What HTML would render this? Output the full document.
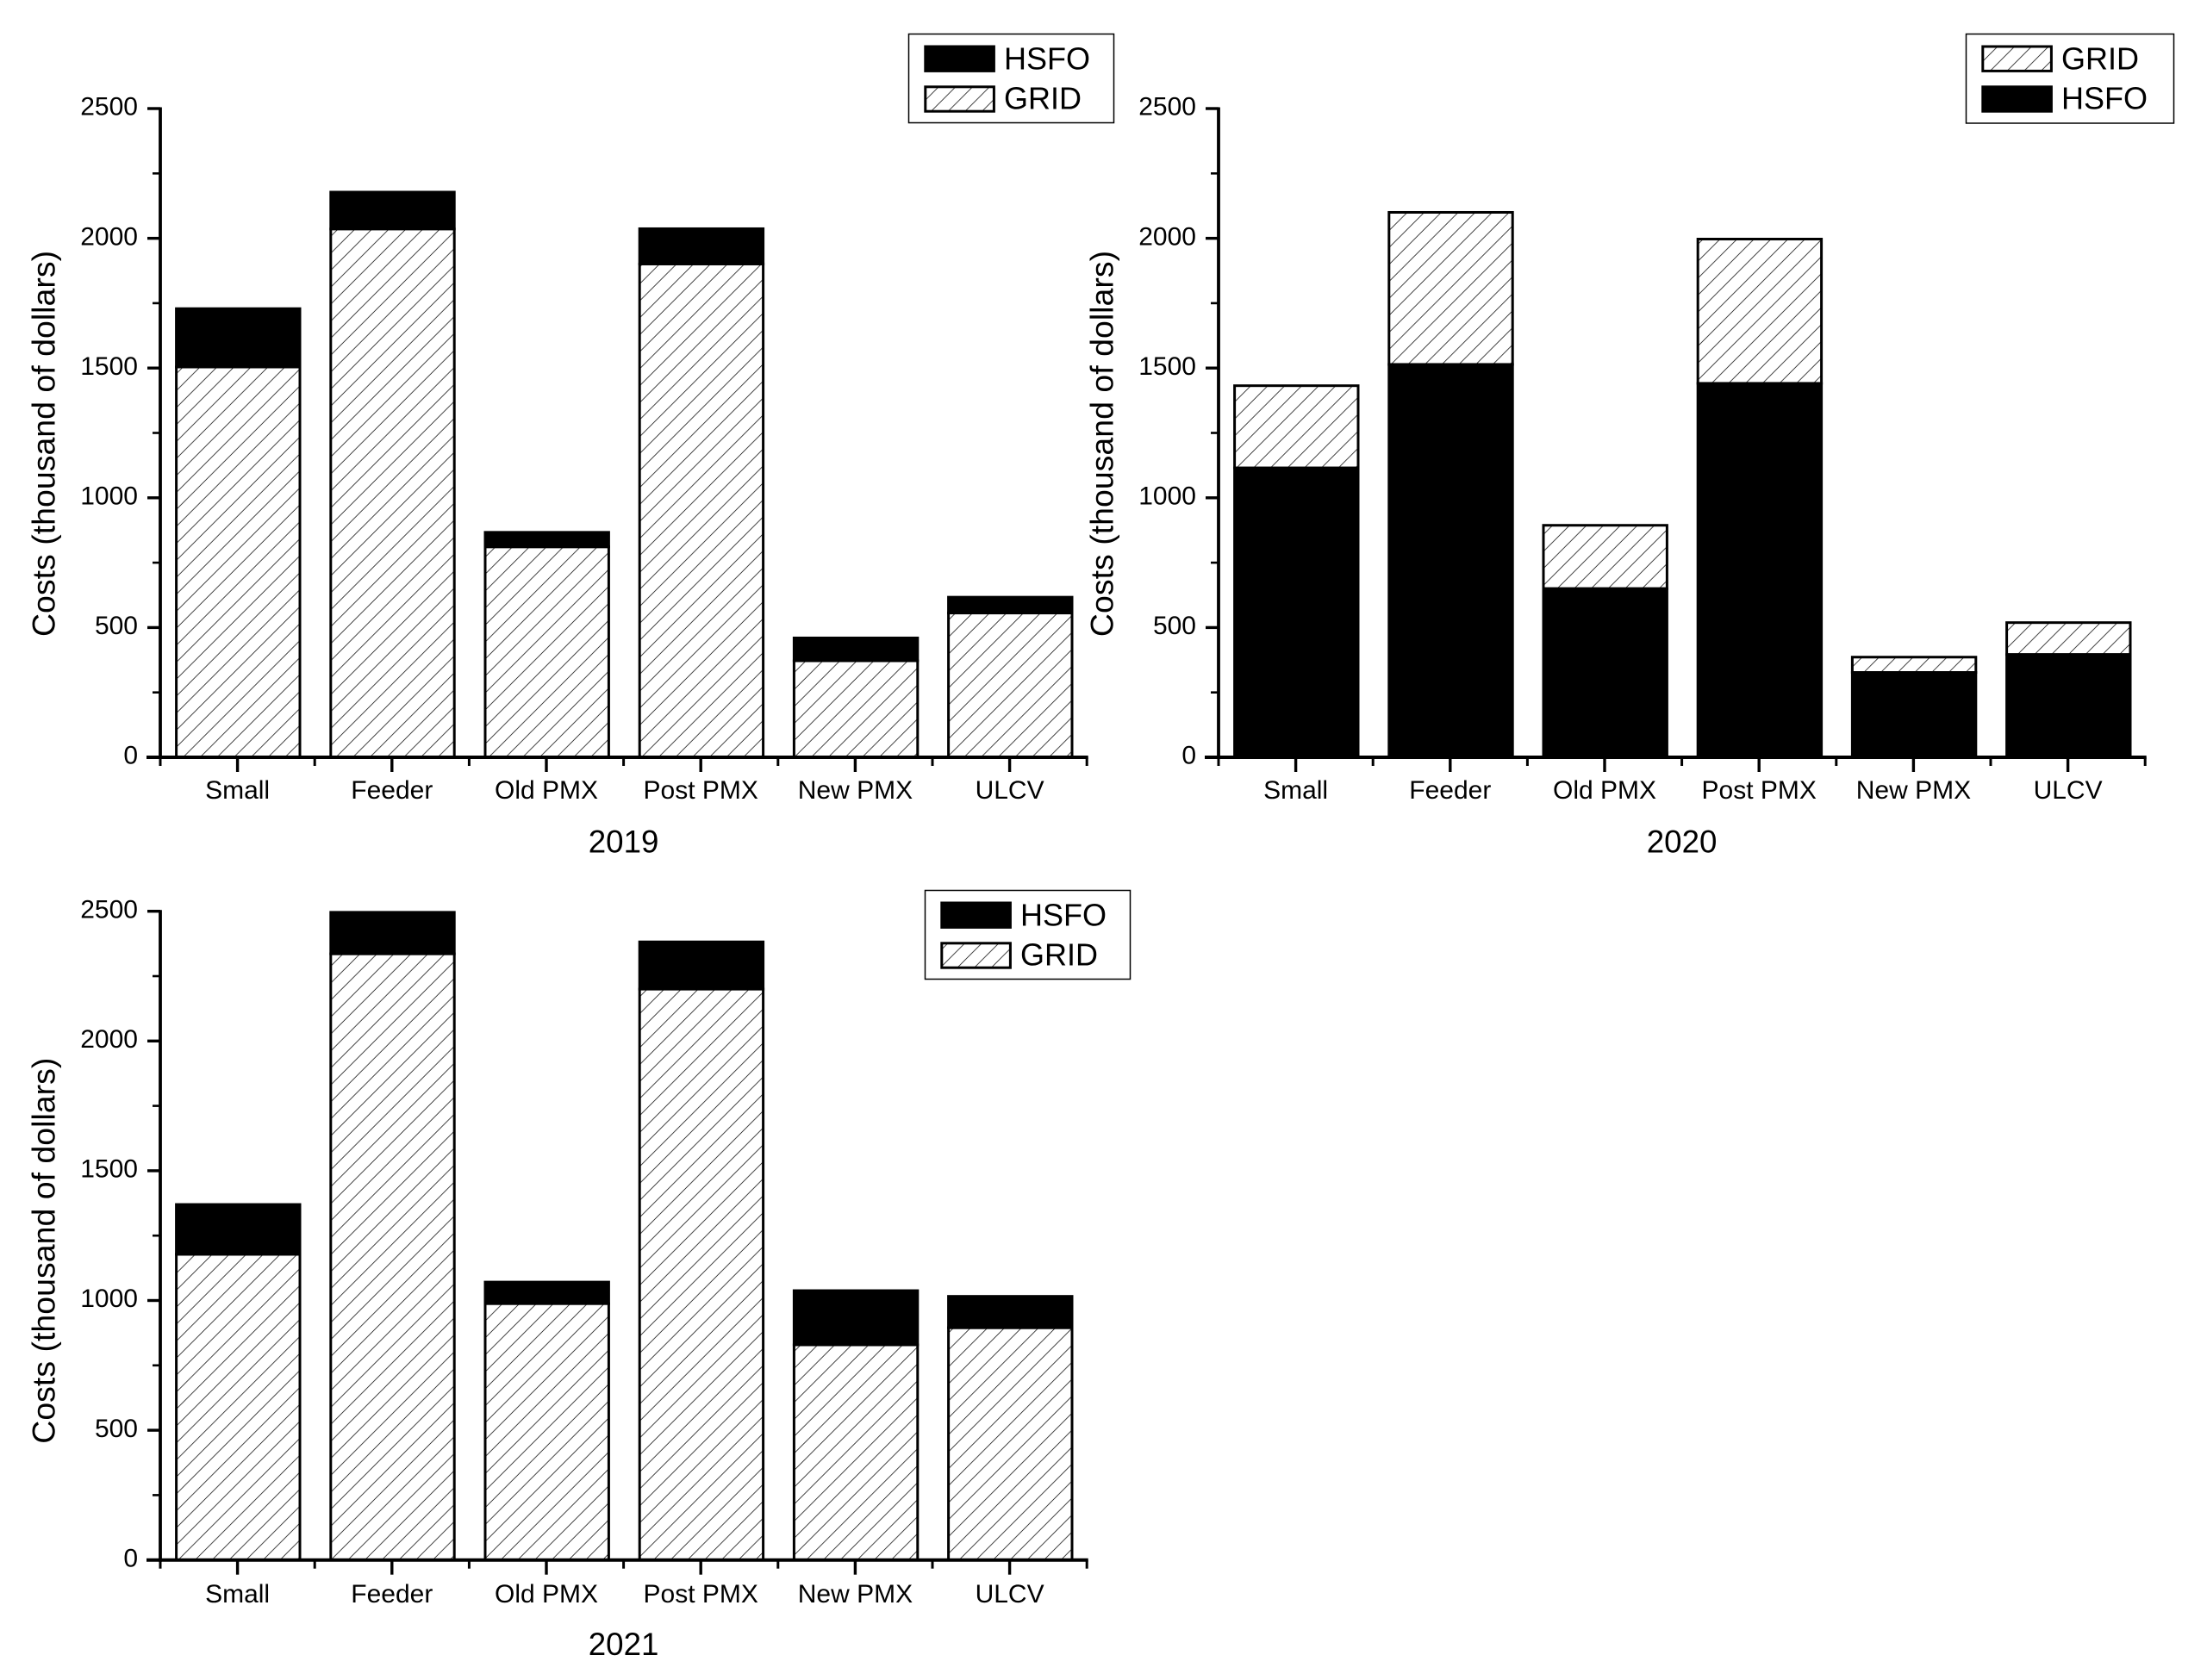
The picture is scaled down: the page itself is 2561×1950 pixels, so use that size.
<!DOCTYPE html>
<html lang="en">
<head>
<meta charset="utf-8">
<title>Costs by ship class 2019-2021</title>
<style>
html,body{margin:0;padding:0;background:#fff;}
svg{display:block;}
text{font-family:"Liberation Sans",Arial,sans-serif;fill:#000;}
</style>
</head>
<body>
<svg id="chart" xmlns="http://www.w3.org/2000/svg" width="2561" height="1950" viewBox="0 0 2561 1950">
<defs>
<pattern id="hatch" patternUnits="userSpaceOnUse" width="19.7" height="19.7" x="7" y="1">
<path d="M-2,21.7 L21.7,-2 M-5,5 L5,-5 M14.7,24.7 L24.7,14.7" stroke="#000" stroke-width="0.75" fill="none"/>
</pattern>
</defs>
<rect x="0" y="0" width="2561" height="1950" fill="#fff"/>
</svg>
<script>
// ---- chart data ----
const categories = ["Small", "Feeder", "Old PMX", "Post PMX", "New PMX", "ULCV"];
const yTicks = [0, 500, 1000, 1500, 2000, 2500];
const yMinorTicks = [250, 750, 1250, 1750, 2250];
const yTitle = "Costs (thousand of dollars)";

const grid2019 = [1504, 2036, 811, 1901, 372, 556];
const hsfo2019 = [225, 142, 56, 136, 88, 61];

const hsfo2020 = [1115, 1514, 650, 1441, 327, 396];
const grid2020 = [317, 586, 244, 556, 59, 123];

const grid2021 = [1178, 2336, 988, 2200, 829, 895];
const hsfo2021 = [192, 160, 83, 182, 209, 121];

// ---- layout ----
const svg = document.getElementById('chart');
const NS = 'http://www.w3.org/2000/svg';
const PITCH = 179.2, PLOT_H = 753, Y_MAX = 2500, BAR_W = 143.4;

function make(tag, attrs, parent) {
  const e = document.createElementNS(NS, tag);
  for (const k in attrs) e.setAttribute(k, attrs[k]);
  (parent || svg).appendChild(e);
  return e;
}

function drawSegment(g, kind, x, yTop, yBot, w, label) {
  const fill = kind === 'HSFO' ? '#000' : 'url(#hatch)';
  const r = make('rect', {x: x, y: yTop, width: w, height: yBot - yTop, fill: fill, stroke: '#000', 'stroke-width': 3}, g);
  
  
}

function drawPanel(opts) {
  const x0 = opts.x0, y0 = opts.y0;
  const xBand = i => x0 + PITCH * i;
  const xCenter = i => x0 + PITCH * (i + 0.5);
  const yScale = v => y0 - v / Y_MAX * PLOT_H;

  const g = make('g', {});
  
  

  // stacked bars
  categories.forEach((c, i) => {
    const slug = c.toLowerCase().replace(/\s+/g, '-');
    let base = 0;
    opts.stack.forEach(s => {
      const v = s.values[i];
      drawSegment(g, s.kind, xCenter(i) + 0.7 - BAR_W / 2, yScale(base + v), yScale(base), BAR_W,
        'bar-' + opts.year + '-' + slug + '-' + s.kind.toLowerCase());
      base += v;
    });
  });

  // axis lines
  const yAxis = make('line', {x1: x0, y1: yScale(Y_MAX) - 1.5, x2: x0, y2: y0 + 2, stroke: '#000', 'stroke-width': 3.8}, g);
  
  
  const xAxis = make('line', {x1: x0 - 16, y1: y0, x2: xBand(categories.length) + 1.5, y2: y0, stroke: '#000', 'stroke-width': 4}, g);
  
  

  // y ticks
  yTicks.forEach(v => {
    const t = make('line', {x1: x0 - 15, y1: yScale(v), x2: x0, y2: yScale(v), stroke: '#000', 'stroke-width': 3.4}, g);
    
    
    const l = make('text', {x: x0 - 26, y: yScale(v) + 7.7, 'font-size': 30, 'text-anchor': 'end'}, g);
    l.textContent = String(v);
    
    
  });
  yMinorTicks.forEach(v => {
    const t = make('line', {x1: x0 - 9, y1: yScale(v), x2: x0, y2: yScale(v), stroke: '#000', 'stroke-width': 2.6}, g);
    
    
  });

  // x ticks
  for (let i = 0; i <= categories.length; i++) {
    const t = make('line', {x1: xBand(i), y1: y0, x2: xBand(i), y2: y0 + 10, stroke: '#000', 'stroke-width': 3}, g);
    
    
  }
  categories.forEach((c, i) => {
    const t = make('line', {x1: xCenter(i), y1: y0, x2: xCenter(i), y2: y0 + 17, stroke: '#000', 'stroke-width': 3.4}, g);
    
    
    const l = make('text', {x: xCenter(i), y: y0 + 48 + opts.labelDy, 'font-size': 30, 'text-anchor': 'middle'}, g);
    l.textContent = c;
    
    
  });

  // axis titles
  const cy = y0 - 364 + opts.titleDy;
  const yt = make('text', {x: x0 - 122.6, y: cy, 'font-size': 37.5, 'text-anchor': 'middle', transform: 'rotate(-90 ' + (x0 - 122.6) + ' ' + cy + ')'}, g);
  yt.textContent = yTitle;
  
  
  const xt = make('text', {x: x0 + PITCH * 3, y: y0 + 110.3, 'font-size': 36.7, 'text-anchor': 'middle'}, g);
  xt.textContent = String(opts.year);
  
  

  // legend
  const L = opts.legend;
  const lg = make('g', {}, g);
  
  
  const box = make('rect', {x: L.x, y: L.y, width: L.w, height: L.h, fill: '#fff', stroke: '#000', 'stroke-width': 1.5}, lg);
  
  
  L.rows.forEach((kind, r) => {
    const top = L.y + 14.5 + r * 46.8;
    drawSegment(lg, kind, L.x + 19.3, top, top + 28.4, 79.6, 'legend-swatch-' + kind.toLowerCase());
    const l = make('text', {x: L.x + 110.5, y: top + 26.7 - (r === 1 ? 1 : 0), 'font-size': 36}, lg);
    l.textContent = kind;
    
    
  });
}

drawPanel({
  year: 2019, x0: 186, y0: 879, labelDy: 0, titleDy: 0,
  stack: [{kind: 'GRID', values: grid2019}, {kind: 'HSFO', values: hsfo2019}],
  legend: {x: 1054.5, y: 39.5, w: 238, h: 103, rows: ['HSFO', 'GRID']}
});
drawPanel({
  year: 2020, x0: 1414, y0: 879, labelDy: 0, titleDy: 0,
  stack: [{kind: 'HSFO', values: hsfo2020}, {kind: 'GRID', values: grid2020}],
  legend: {x: 2281.5, y: 39.5, w: 241, h: 103.5, rows: ['GRID', 'HSFO']}
});
drawPanel({
  year: 2021, x0: 186, y0: 1810.7, labelDy: 1.2, titleDy: 5,
  stack: [{kind: 'GRID', values: grid2021}, {kind: 'HSFO', values: hsfo2021}],
  legend: {x: 1073.5, y: 1033.5, w: 238, h: 103, rows: ['HSFO', 'GRID']}
});
</script>
</body>
</html>
